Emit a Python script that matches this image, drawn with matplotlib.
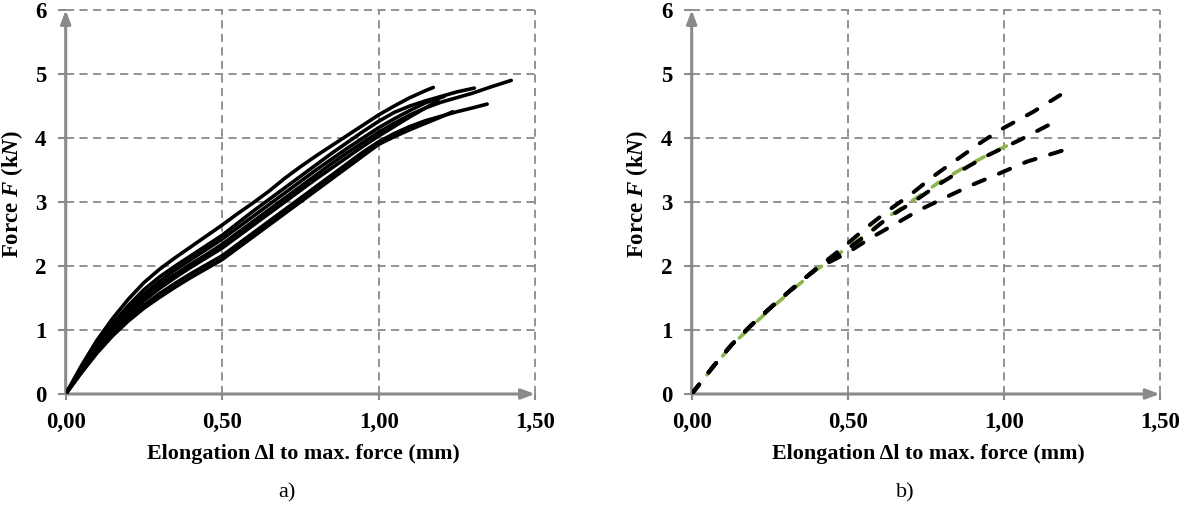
import matplotlib
matplotlib.use("Agg")
import matplotlib.pyplot as plt

plt.rcParams["font.family"] = ["Liberation Serif", "DejaVu Serif"]
plt.rcParams["mathtext.fontset"] = "custom"
plt.rcParams["mathtext.rm"] = "Liberation Serif:bold"
plt.rcParams["mathtext.it"] = "Liberation Serif:bold:italic"
plt.rcParams["mathtext.bf"] = "Liberation Serif:bold"

# ---- data, panel a) : measured force-elongation curves (read from the picture) ----
a1_x = [0, 0.05, 0.1, 0.15, 0.2, 0.25, 0.3, 0.35, 0.4, 0.45, 0.5, 0.55, 0.6, 0.65, 0.7, 0.75,
        0.8, 0.85, 0.9, 0.95, 1.0, 1.05, 1.1, 1.15, 1.175]
a1_y = [0, 0.44, 0.84, 1.18, 1.48, 1.74, 1.95, 2.13, 2.3, 2.47, 2.64, 2.82, 2.99, 3.17, 3.37, 3.55,
        3.72, 3.88, 4.04, 4.2, 4.36, 4.5, 4.63, 4.74, 4.79]

a2_x = [0, 0.05, 0.1, 0.15, 0.2, 0.25, 0.3, 0.35, 0.4, 0.45, 0.5, 0.55, 0.6, 0.65, 0.7, 0.75,
        0.8, 0.85, 0.9, 0.95, 1.0, 1.05, 1.1, 1.15, 1.2, 1.25, 1.3, 1.36, 1.424]
a2_y = [0, 0.37, 0.72, 1.02, 1.28, 1.5, 1.7, 1.87, 2.03, 2.18, 2.34, 2.52, 2.7, 2.88, 3.06, 3.24,
        3.42, 3.6, 3.77, 3.93, 4.09, 4.23, 4.36, 4.47, 4.56, 4.63, 4.7, 4.8, 4.9]

a3_x = [0, 0.05, 0.1, 0.15, 0.2, 0.25, 0.3, 0.35, 0.4, 0.45, 0.5, 0.55, 0.6, 0.65, 0.7, 0.75,
        0.8, 0.85, 0.9, 0.95, 1.0, 1.05, 1.1, 1.15, 1.2, 1.25, 1.306]
a3_y = [0, 0.4, 0.78, 1.1, 1.38, 1.63, 1.83, 2.0, 2.16, 2.32, 2.48, 2.67, 2.86, 3.04, 3.22, 3.4,
        3.58, 3.76, 3.93, 4.1, 4.26, 4.4, 4.5, 4.58, 4.65, 4.72, 4.78]

a4_x = [0, 0.05, 0.1, 0.15, 0.2, 0.25, 0.3, 0.35, 0.4, 0.45, 0.5, 0.55, 0.6, 0.65, 0.7, 0.75,
        0.8, 0.85, 0.9, 0.95, 1.0, 1.05, 1.1, 1.15, 1.21]
a4_y = [0, 0.38, 0.74, 1.05, 1.32, 1.56, 1.76, 1.94, 2.1, 2.26, 2.42, 2.6, 2.78, 2.96, 3.14, 3.32,
        3.5, 3.67, 3.84, 4.0, 4.16, 4.3, 4.43, 4.55, 4.65]

a5_x = [0, 0.05, 0.1, 0.15, 0.2, 0.25, 0.3, 0.35, 0.4, 0.45, 0.5, 0.55, 0.6, 0.65, 0.7, 0.75,
        0.8, 0.85, 0.9, 0.95, 1.0, 1.05, 1.1, 1.15, 1.19]
a5_y = [0, 0.36, 0.7, 0.99, 1.24, 1.46, 1.65, 1.82, 1.98, 2.13, 2.28, 2.46, 2.64, 2.82, 3.0, 3.18,
        3.36, 3.53, 3.7, 3.87, 4.03, 4.18, 4.33, 4.47, 4.58]

a6_x = [0, 0.05, 0.1, 0.15, 0.2, 0.25, 0.3, 0.35, 0.4, 0.45, 0.5, 0.55, 0.6, 0.65, 0.7, 0.75,
        0.8, 0.85, 0.9, 0.95, 1.0, 1.05, 1.1, 1.15, 1.2, 1.25, 1.3, 1.347]
a6_y = [0, 0.34, 0.66, 0.94, 1.18, 1.39, 1.57, 1.73, 1.88, 2.02, 2.16, 2.34, 2.52, 2.7, 2.88, 3.06,
        3.24, 3.42, 3.6, 3.78, 3.94, 4.07, 4.18, 4.27, 4.34, 4.41, 4.47, 4.53]

a7_x = [0, 0.05, 0.1, 0.15, 0.2, 0.25, 0.3, 0.35, 0.4, 0.45, 0.5, 0.55, 0.6, 0.65, 0.7, 0.75,
        0.8, 0.85, 0.9, 0.95, 1.0, 1.05, 1.1, 1.15, 1.2, 1.237]
a7_y = [0, 0.33, 0.64, 0.91, 1.14, 1.34, 1.51, 1.67, 1.82, 1.96, 2.1, 2.28, 2.46, 2.64, 2.82, 3.0,
        3.18, 3.36, 3.54, 3.72, 3.9, 4.02, 4.13, 4.23, 4.33, 4.41]

# ---- data, panel b) : model curves ----
b_top_x = [0, 0.069, 0.128, 0.192, 0.262, 0.331, 0.4, 0.48, 0.55, 0.625, 0.7, 0.774, 0.849, 0.924, 0.988, 1.095, 1.181]
b_top_y = [0, 0.43, 0.77, 1.08, 1.39, 1.68, 1.96, 2.27, 2.56, 2.85, 3.11, 3.4, 3.66, 3.92, 4.125, 4.41, 4.67]

b_mid_x = [0, 0.069, 0.128, 0.192, 0.262, 0.331, 0.4, 0.486, 0.56, 0.63, 0.71, 0.79, 0.87, 0.945, 1.052, 1.143]
b_mid_y = [0, 0.43, 0.77, 1.08, 1.39, 1.68, 1.96, 2.22, 2.48, 2.76, 3.0, 3.27, 3.51, 3.72, 3.97, 4.2]

b_low_x = [0, 0.069, 0.128, 0.192, 0.262, 0.331, 0.4, 0.497, 0.571, 0.657, 0.73, 0.817, 0.9, 0.988, 1.074, 1.186]
b_low_y = [0, 0.43, 0.77, 1.08, 1.39, 1.68, 1.96, 2.2, 2.43, 2.67, 2.875, 3.08, 3.27, 3.45, 3.63, 3.8]

b_green_x = [0, 0.069, 0.128, 0.192, 0.262, 0.331, 0.4, 0.48, 0.56, 0.63, 0.71, 0.79, 0.87, 0.95, 1.054]
b_green_y = [0, 0.42, 0.76, 1.06, 1.37, 1.66, 1.94, 2.22, 2.5, 2.77, 3.03, 3.3, 3.53, 3.74, 3.98]

x_ticks = [0, 0.5, 1.0, 1.5]
x_labels = ["0,00", "0,50", "1,00", "1,50"]
y_ticks = [0, 1, 2, 3, 4, 5, 6]

GRAY = "#8a8a8a"
W, H = 1185, 507


def setup_axes(ax):
    ax.set_xlim(0, 1.5)
    ax.set_ylim(0, 6)
    for s in ax.spines.values():
        s.set_visible(False)
    # dashed grid, drawn by hand so the edge lines are not clipped
    for xv in x_ticks[1:]:
        ax.plot([xv, xv], [0, 6], color=GRAY, lw=1.3, ls=(0, (4.5, 3)), clip_on=False, zorder=1)
    for yv in y_ticks[1:]:
        ax.plot([0, 1.5], [yv, yv], color=GRAY, lw=1.3, ls=(0, (4.5, 3)), clip_on=False, zorder=1)
    # axes with arrow heads
    for tip in [(1.5, 0), (0, 6)]:
        ax.annotate("", xy=tip, xytext=(0, 0),
                    arrowprops=dict(arrowstyle="-|>,head_length=0.8,head_width=0.3", color=GRAY,
                                    lw=2.2, shrinkA=0, shrinkB=0), annotation_clip=False)
    ax.set_xticks(x_ticks)
    ax.set_xticklabels(x_labels)
    ax.set_yticks(y_ticks)
    ax.tick_params(axis="x", direction="out", length=4, width=1.5, color=GRAY, pad=9, labelsize=16.5)
    ax.tick_params(axis="y", direction="out", length=6, width=1.5, color=GRAY, pad=8, labelsize=16.5)
    for lbl in ax.get_xticklabels() + ax.get_yticklabels():
        lbl.set_fontweight("bold")


fig = plt.figure(figsize=(W / 100, H / 100), dpi=100)

# panel a)
ax1 = fig.add_axes([65.7 / W, 1 - 394 / H, (535 - 65.7) / W, 384 / H])
setup_axes(ax1)
for xs, ys in [(a1_x, a1_y), (a2_x, a2_y), (a3_x, a3_y), (a4_x, a4_y),
               (a5_x, a5_y), (a6_x, a6_y), (a7_x, a7_y)]:
    ax1.plot(xs, ys, color="black", lw=2.6, solid_capstyle="round", zorder=3)

# panel b)
ax2 = fig.add_axes([691.7 / W, 1 - 394 / H, 468 / W, 384 / H])
setup_axes(ax2)
dash = (0, (3, 3.8))
ax2.plot(b_green_x, b_green_y, color="#8cb44c", lw=2.6, ls=dash, dash_capstyle="round", zorder=3)
for xs, ys in [(b_top_x, b_top_y), (b_mid_x, b_mid_y), (b_low_x, b_low_y)]:
    ax2.plot(xs, ys, color="black", lw=2.9, ls=dash, dash_capstyle="round", zorder=4)

# labels and captions
for x_ax, x_lab, x_cap, cap in [(303, 12, 287, "a)"), (928, 637, 905, "b)")]:
    fig.text(x_ax / W, 1 - 454 / H, "Elongation \u0394l to max. force (mm)",
             ha="center", va="center", fontsize=15.8, fontweight="bold")
    fig.text(x_lab / W, 1 - 194 / H, "Force $F$ (k$N$)", rotation=90,
             ha="center", va="center", fontsize=16.5, fontweight="bold")
    fig.text(x_cap / W, 1 - 493 / H, cap, ha="center", va="center", fontsize=16)

fig.savefig("out.png", dpi=100)
